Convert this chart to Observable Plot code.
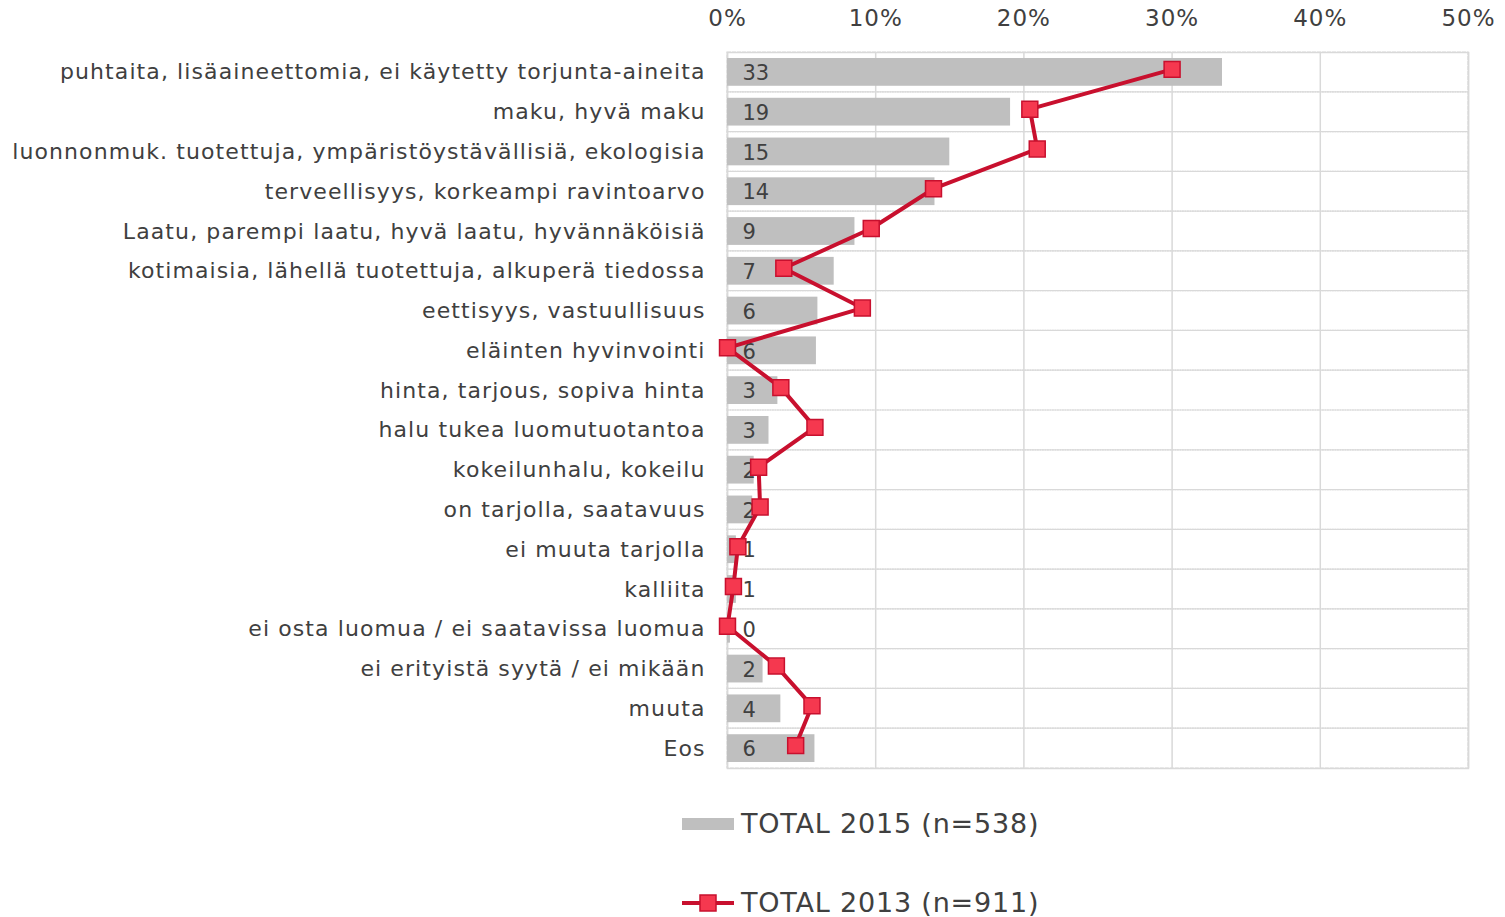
<!DOCTYPE html>
<html>
<head>
<meta charset="utf-8">
<script src="https://cdn.jsdelivr.net/npm/d3@7"></script>
<script src="https://cdn.jsdelivr.net/npm/@observablehq/plot@0.6"></script>
<style>
  html, body { margin: 0; padding: 0; background: #fff; }
  body { width: 1505px; height: 917px; overflow: hidden; font-family: "DejaVu Sans", Verdana, sans-serif; color: #404040; }
  #chart svg { display: block; }
  .legend { position: relative; height: 127px; }
  .item { position: absolute; left: 682px; display: flex; align-items: center; font-size: 27px; letter-spacing: 0.8px; color: #404040; white-space: nowrap; }
  .item .sw { width: 52px; margin-right: 7px; }
</style>
</head>
<body>
<div id="chart"></div>
<div class="legend">
  <div class="item" id="leg1" style="top:18px"></div>
  <div class="item" id="leg2" style="top:97px"></div>
</div>
<script>
const categories = [
  "puhtaita, lisäaineettomia, ei käytetty torjunta-aineita",
  "maku, hyvä maku",
  "luonnonmuk. tuotettuja, ympäristöystävällisiä, ekologisia",
  "terveellisyys, korkeampi ravintoarvo",
  "Laatu, parempi laatu, hyvä laatu, hyvännäköisiä",
  "kotimaisia, lähellä tuotettuja, alkuperä tiedossa",
  "eettisyys, vastuullisuus",
  "eläinten hyvinvointi",
  "hinta, tarjous, sopiva hinta",
  "halu tukea luomutuotantoa",
  "kokeilunhalu, kokeilu",
  "on tarjolla, saatavuus",
  "ei muuta tarjolla",
  "kalliita",
  "ei osta luomua / ei saatavissa luomua",
  "ei erityistä syytä / ei mikään",
  "muuta",
  "Eos"
];
const total2015 = [33.4, 19.1, 15.0, 14.0, 8.6, 7.2, 6.1, 6.0, 3.4, 2.8, 1.8, 1.7, 0.6, 0.6, 0.2, 2.4, 3.6, 5.9];
const labels2015 = [33, 19, 15, 14, 9, 7, 6, 6, 3, 3, 2, 2, 1, 1, 0, 2, 4, 6];
const total2013 = [30.0, 20.4, 20.9, 13.9, 9.7, 3.8, 9.1, 0.0, 3.6, 5.9, 2.1, 2.2, 0.7, 0.4, 0.0, 3.3, 5.7, 4.6];
const xTicks = [0, 10, 20, 30, 40, 50];
const series2015 = "TOTAL 2015 (n=538)";
const series2013 = "TOTAL 2013 (n=911)";

const rows = categories.map((c, i) => ({cat: c, v15: total2015[i], lab: labels2015[i], v13: total2013[i]}));

const barColor = "#bfbfbf";
const lineColor = "#c8102e";
const markFill = "#f5384f";
const gridColor = "#d9d9d9";

const chart = Plot.plot({
  width: 1505,
  height: 790,
  marginTop: 52,
  marginLeft: 727,
  marginRight: 37,
  marginBottom: 22,
  style: {fontFamily: "'DejaVu Sans', Verdana, sans-serif", color: "#404040", background: "#fff"},
  x: {domain: [0, 50], ticks: xTicks, tickFormat: d => d + "%", axis: null},
  y: {domain: categories, padding: 0, round: false, axis: null},
  marks: [
    // row cells (horizontal gridlines)
    Plot.barX(rows, {x1: 0, x2: 50, y: "cat", fill: "none", stroke: gridColor, strokeWidth: 1.2, strokeDasharray: "4,1"}),
    // vertical gridlines
    Plot.ruleX(xTicks, {stroke: gridColor, strokeWidth: 1.5}),
    Plot.frame({stroke: gridColor, strokeWidth: 1.5}),
    // bars
    Plot.barX(rows, {x: "v15", y: "cat", fill: barColor, insetTop: 6, insetBottom: 6}),
    // value labels
    Plot.text(rows, {x: 0, y: "cat", text: d => String(d.lab), dx: 15, dy: 1, textAnchor: "start", fontSize: 21, fill: "#404040", style: {letterSpacing: "1px"}}),
    // 2013 line
    Plot.line(rows, {x: "v13", y: "cat", stroke: lineColor, strokeWidth: 4, dy: -3}),
    Plot.dot(rows, {x: "v13", y: "cat", symbol: "square", r: 9, fill: markFill, stroke: lineColor, strokeWidth: 1.5, dy: -3}),
    // axes
    Plot.axisX({anchor: "top", ticks: xTicks, tickFormat: d => d + "%", tickSize: 0, tickPadding: 27, fontSize: 23, fill: "#404040", label: null}),
    Plot.axisY({anchor: "left", tickSize: 0, tickPadding: 22, fontSize: 22, fill: "#404040", label: null})
  ]
});
chart.querySelectorAll("[aria-label='y-axis tick label'] text").forEach(t => t.setAttribute("letter-spacing", "1.1"));
chart.querySelectorAll("[aria-label='x-axis tick label'] text").forEach(t => t.setAttribute("letter-spacing", "1"));
document.getElementById("chart").appendChild(chart);

document.getElementById("leg1").innerHTML =
  `<svg class="sw" width="52" height="14"><rect x="0" y="1" width="52" height="12" fill="${barColor}"/></svg><span>${series2015}</span>`;
document.getElementById("leg2").innerHTML =
  `<svg class="sw" width="52" height="18"><line x1="0" y1="9" x2="52" y2="9" stroke="${lineColor}" stroke-width="4"/><rect x="18" y="1" width="16" height="16" fill="${markFill}" stroke="${lineColor}" stroke-width="1.5"/></svg><span>${series2013}</span>`;
</script>
</body>
</html>
